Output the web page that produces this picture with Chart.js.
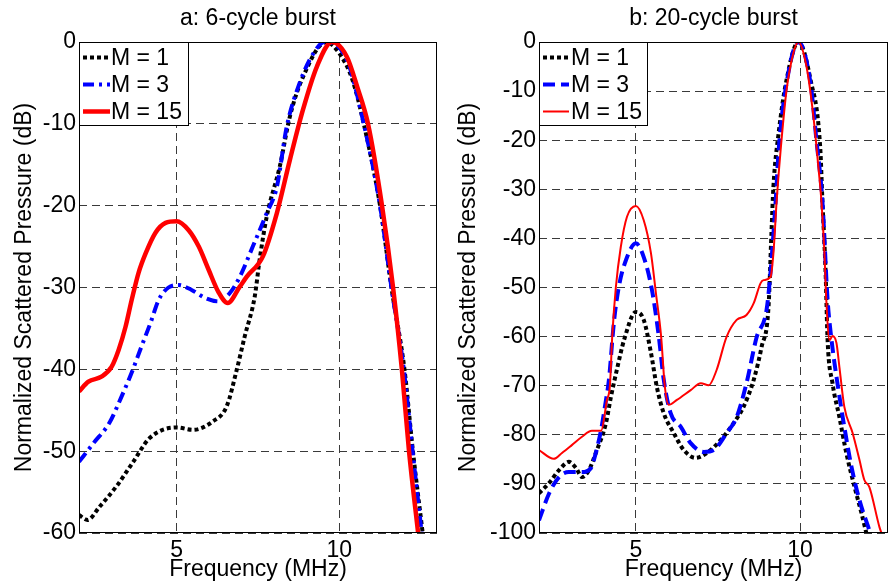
<!DOCTYPE html>
<html>
<head>
<meta charset="utf-8">
<script src="https://cdn.jsdelivr.net/npm/chart.js@4.4.1/dist/chart.umd.min.js"></script>
<style>
  body { margin: 0; background: #fff; }
  .panel { position: absolute; top: 0; width: 444px; height: 583px; }
</style>
</head>
<body>
<div class="panel" style="left:0"><canvas id="chartA"></canvas></div>
<div class="panel" style="left:444px"><canvas id="chartB"></canvas></div>
<script>
const fontFamily = '"Liberation Sans", Arial, Helvetica, sans-serif';

// legend labels, shared by both panels
const seriesNames = ['M = 1', 'M = 3', 'M = 15'];

// panel a: 6-cycle burst (frequency MHz, level dB)
const freqA1 = [2.0, 2.26, 2.63, 3.15, 3.65, 4.17, 5.0, 5.5, 6.1, 6.54, 6.85, 7.09, 7.4, 7.55, 7.77, 8.17, 8.48, 8.88, 9.6, 10.0, 10.4, 10.75, 11.25, 11.6, 12.0, 12.26, 12.56];
const dbA1   = [-57.8, -58.4, -56.8, -54.3, -51.4, -48.4, -47.1, -47.4, -46.4, -44.5, -40, -36, -31.1, -26.6, -21.3, -15.2, -9.1, -4.3, 0, -1.4, -4.6, -10, -20, -30, -40, -50, -60];
const freqA3 = [2.0, 2.45, 2.94, 3.31, 3.62, 3.92, 4.2, 4.45, 4.75, 5.06, 5.46, 5.89, 6.29, 6.63, 6.94, 7.34, 7.77, 8.08, 8.38, 8.78, 9.2, 9.55, 10.23, 10.75, 11.25, 11.6, 11.98, 12.25, 12.53];
const dbA3   = [-51.3, -49, -46.5, -43.3, -40.4, -37.2, -34.3, -31.5, -30, -29.7, -30.3, -31.3, -31.7, -30.7, -28.7, -25, -20.9, -17.7, -10.4, -5, -1.4, 0, -2.2, -10, -20, -30, -40, -50, -60];
const freqA15 = [2.0, 2.29, 2.69, 3.0, 3.22, 3.43, 3.62, 3.83, 4.05, 4.35, 4.66, 5.0, 5.37, 5.68, 5.98, 6.29, 6.57, 6.94, 7.15, 7.65, 8.08, 8.48, 8.88, 9.31, 9.77, 10.23, 10.55, 10.88, 11.31, 11.65, 11.92, 12.14, 12.42];
const dbA15   = [-42.7, -41.5, -40.9, -39.7, -37.6, -34.8, -31.5, -28.2, -25.8, -23.3, -22.1, -21.9, -23, -25, -27.8, -30.6, -31.9, -29.9, -28.7, -26.2, -20.9, -14.4, -8.3, -3, 0, -1.8, -5.5, -10, -20, -30, -40, -50, -60];

// panel b: 20-cycle burst
const freqB1 = [2.05, 2.36, 2.66, 2.96, 3.18, 3.36, 3.57, 3.78, 4.09, 4.24, 4.42, 4.64, 5.0, 5.24, 5.46, 5.64, 5.85, 6.15, 6.46, 6.82, 7.16, 7.58, 7.98, 8.28, 8.59, 8.83, 9.04, 9.13, 9.19, 9.35, 9.59, 9.95, 10.32, 10.62, 10.68, 10.78, 10.84, 10.99, 11.2, 11.41, 11.66, 11.87, 12.02];
const dbB1   = [-91.9, -89.8, -87.2, -85.5, -86.8, -88.6, -87.2, -83.7, -77.6, -72.3, -66.8, -60.7, -55, -56.6, -63.3, -70.3, -75.6, -79.6, -83.1, -84.7, -83.7, -81.1, -77.6, -74.3, -68.8, -62.1, -54, -38.9, -29.5, -18.5, -7.7, 0, -7.7, -22, -32, -47, -60.7, -69.5, -76.4, -83.7, -90.6, -95.9, -100];
const freqB3 = [2.05, 2.36, 2.66, 2.96, 3.36, 3.63, 3.78, 3.94, 4.09, 4.18, 4.33, 4.48, 4.7, 5.0, 5.24, 5.49, 5.7, 5.85, 6.06, 6.37, 6.67, 7.07, 7.37, 7.77, 8.07, 8.37, 8.68, 8.98, 9.1, 9.26, 9.35, 9.59, 9.95, 10.32, 10.5, 10.68, 10.84, 10.96, 11.14, 11.35, 11.57, 11.81, 12.11, 12.14];
const dbB3   = [-97.4, -91.9, -88.6, -87.6, -87.6, -86.8, -83.7, -79, -72.9, -68.8, -57.2, -49.9, -44.4, -41, -43.8, -50.5, -60, -68.8, -75.6, -78.4, -81.7, -83.5, -83.1, -79.6, -76.4, -69.5, -60.1, -54.6, -47, -32.2, -22, -8.4, 0, -8.4, -20, -32.2, -52.5, -60.7, -69.5, -78.4, -86.6, -93.3, -99.4, -100];
const freqB15 = [2.05, 2.5, 2.75, 3.05, 3.36, 3.66, 3.94, 4.12, 4.21, 4.28, 4.39, 4.54, 4.73, 5.0, 5.24, 5.46, 5.61, 5.77, 5.88, 6.0, 6.25, 6.67, 6.98, 7.22, 7.46, 7.76, 8.07, 8.37, 8.59, 8.8, 8.89, 9.1, 9.19, 9.29, 9.41, 9.59, 9.8, 9.95, 10.2, 10.41, 10.56, 10.65, 10.74, 10.8, 10.9, 10.99, 11.11, 11.2, 11.35, 11.6, 11.81, 11.96, 12.11, 12.42, 12.48];
const dbB15   = [-83.1, -84.9, -83.7, -82.1, -80.4, -79.2, -79.2, -72.9, -70, -60, -50, -41.8, -35.6, -33.4, -36.3, -43, -51.1, -60, -70, -73.9, -72.9, -70.9, -69.5, -69.9, -66.8, -60.1, -56.6, -55.6, -53.2, -49.1, -48.5, -47.9, -43, -32.2, -22, -9.8, -2.2, 0, -5.1, -15.3, -25.5, -32.2, -42.4, -52.5, -60.7, -59.9, -61.3, -66.2, -74.3, -79.6, -85.1, -89.2, -90.6, -98.8, -100];

function pts(xs, ys) {
  return xs.map((x, i) => ({ x: x, y: ys[i] }));
}

// frame, title and boxed legend drawn inside the plot area (matlab style)
const framePlugin = {
  id: 'frame',
  afterDatasetsDraw(chart, args, opts) {
    const ctx = chart.ctx;
    const a = chart.chartArea;
    ctx.save();
    ctx.setLineDash([]);
    ctx.strokeStyle = '#000';
    ctx.lineWidth = 1;
    ctx.strokeRect(a.left + 0.5, a.top + 0.5, a.right - a.left - 1, a.bottom - a.top - 1);

    // title
    ctx.fillStyle = '#000';
    ctx.font = '23px ' + fontFamily;
    ctx.textAlign = 'center';
    ctx.textBaseline = 'alphabetic';
    ctx.fillText(opts.title, (a.left + a.right) / 2, 25);

    // legend
    const bx = a.left + 0.5, by = a.top + 0.5;
    ctx.fillStyle = '#fff';
    ctx.fillRect(bx, by, opts.boxW, 83);
    ctx.strokeRect(bx, by, opts.boxW, 83);
    const rows = [15, 42, 69];
    chart.data.datasets.forEach((ds, i) => {
      const y = by + rows[i];
      ctx.beginPath();
      ctx.strokeStyle = ds.borderColor;
      ctx.lineWidth = ds.borderWidth;
      ctx.setLineDash(ds.borderDash || []);
      ctx.moveTo(a.left + opts.lineX0, y);
      ctx.lineTo(a.left + opts.lineX1, y);
      ctx.stroke();
      ctx.setLineDash([]);
      ctx.fillStyle = '#000';
      ctx.font = '23px ' + fontFamily;
      ctx.textAlign = 'left';
      ctx.textBaseline = 'middle';
      ctx.fillText(ds.label, a.left + opts.textX, y + 1);
    });
    ctx.restore();
  }
};

function makeOptions(xMin, xMax, yMin, yAxisWidth, padRight, title, legendBox) {
  return {
    responsive: true,
    maintainAspectRatio: false,
    animation: false,
    layout: { padding: { top: 42, right: padRight, left: 0, bottom: 0 } },
    elements: { point: { radius: 0 }, line: { cubicInterpolationMode: 'monotone' } },
    plugins: {
      legend: { display: false },
      tooltip: { enabled: false },
      frame: Object.assign({ title: title }, legendBox)
    },
    scales: {
      x: {
        type: 'linear',
        min: xMin,
        max: xMax,
        afterBuildTicks: (axis) => { axis.ticks = [{ value: 5 }, { value: 10 }]; },
        afterFit: (axis) => { axis.height = 50; },
        ticks: { color: '#000', font: { size: 23, family: fontFamily }, padding: 4, maxRotation: 0 },
        grid: { color: '#3a3a3a', lineWidth: 1, drawTicks: false },
        border: { display: false, dash: [8, 5] },
        title: {
          display: true, text: 'Frequency (MHz)', color: '#000',
          font: { size: 23, family: fontFamily, lineHeight: 1.15 }, padding: { top: 0, bottom: 0 }
        }
      },
      y: {
        min: yMin,
        max: 0,
        afterFit: (axis) => { axis.width = yAxisWidth; },
        ticks: { stepSize: 10, color: '#000', font: { size: 23, family: fontFamily }, padding: 3 },
        grid: { color: '#3a3a3a', lineWidth: 1, drawTicks: false },
        border: { display: false, dash: [8, 5] },
        title: {
          display: true, text: 'Normalized Scattered Pressure (dB)', color: '#000',
          font: { size: 23, family: fontFamily, lineHeight: 1.2 }, padding: { top: 11, bottom: 0 }
        }
      }
    }
  };
}

new Chart(document.getElementById('chartA'), {
  type: 'line',
  data: {
    datasets: [
      { label: seriesNames[0], data: pts(freqA1, dbA1), borderColor: '#000', borderWidth: 4, borderDash: [4, 3], order: 3 },
      { label: seriesNames[1], data: pts(freqA3, dbA3), borderColor: '#0000ff', borderWidth: 4, borderDash: [11, 5, 3, 5], order: 2 },
      { label: seriesNames[2], data: pts(freqA15, dbA15), borderColor: '#ff0000', borderWidth: 4.5, order: 1 }
    ]
  },
  options: makeOptions(2, 13, -60, 79, 7, 'a: 6-cycle burst', { boxW: 109, lineX0: 4, lineX1: 31, textX: 32 }),
  plugins: [framePlugin]
});

new Chart(document.getElementById('chartB'), {
  type: 'line',
  data: {
    datasets: [
      { label: seriesNames[0], data: pts(freqB1, dbB1), borderColor: '#000', borderWidth: 4, borderDash: [4, 3], order: 3 },
      { label: seriesNames[1], data: pts(freqB3, dbB3), borderColor: '#0000ff', borderWidth: 4, borderDash: [12, 6], order: 2 },
      { label: seriesNames[2], data: pts(freqB15, dbB15), borderColor: '#ff0000', borderWidth: 2, order: 1 }
    ]
  },
  options: makeOptions(2.05, 12.68, -100, 95, 0, 'b: 20-cycle burst', { boxW: 108, lineX0: 4, lineX1: 30, textX: 32 }),
  plugins: [framePlugin]
});
</script>
</body>
</html>
